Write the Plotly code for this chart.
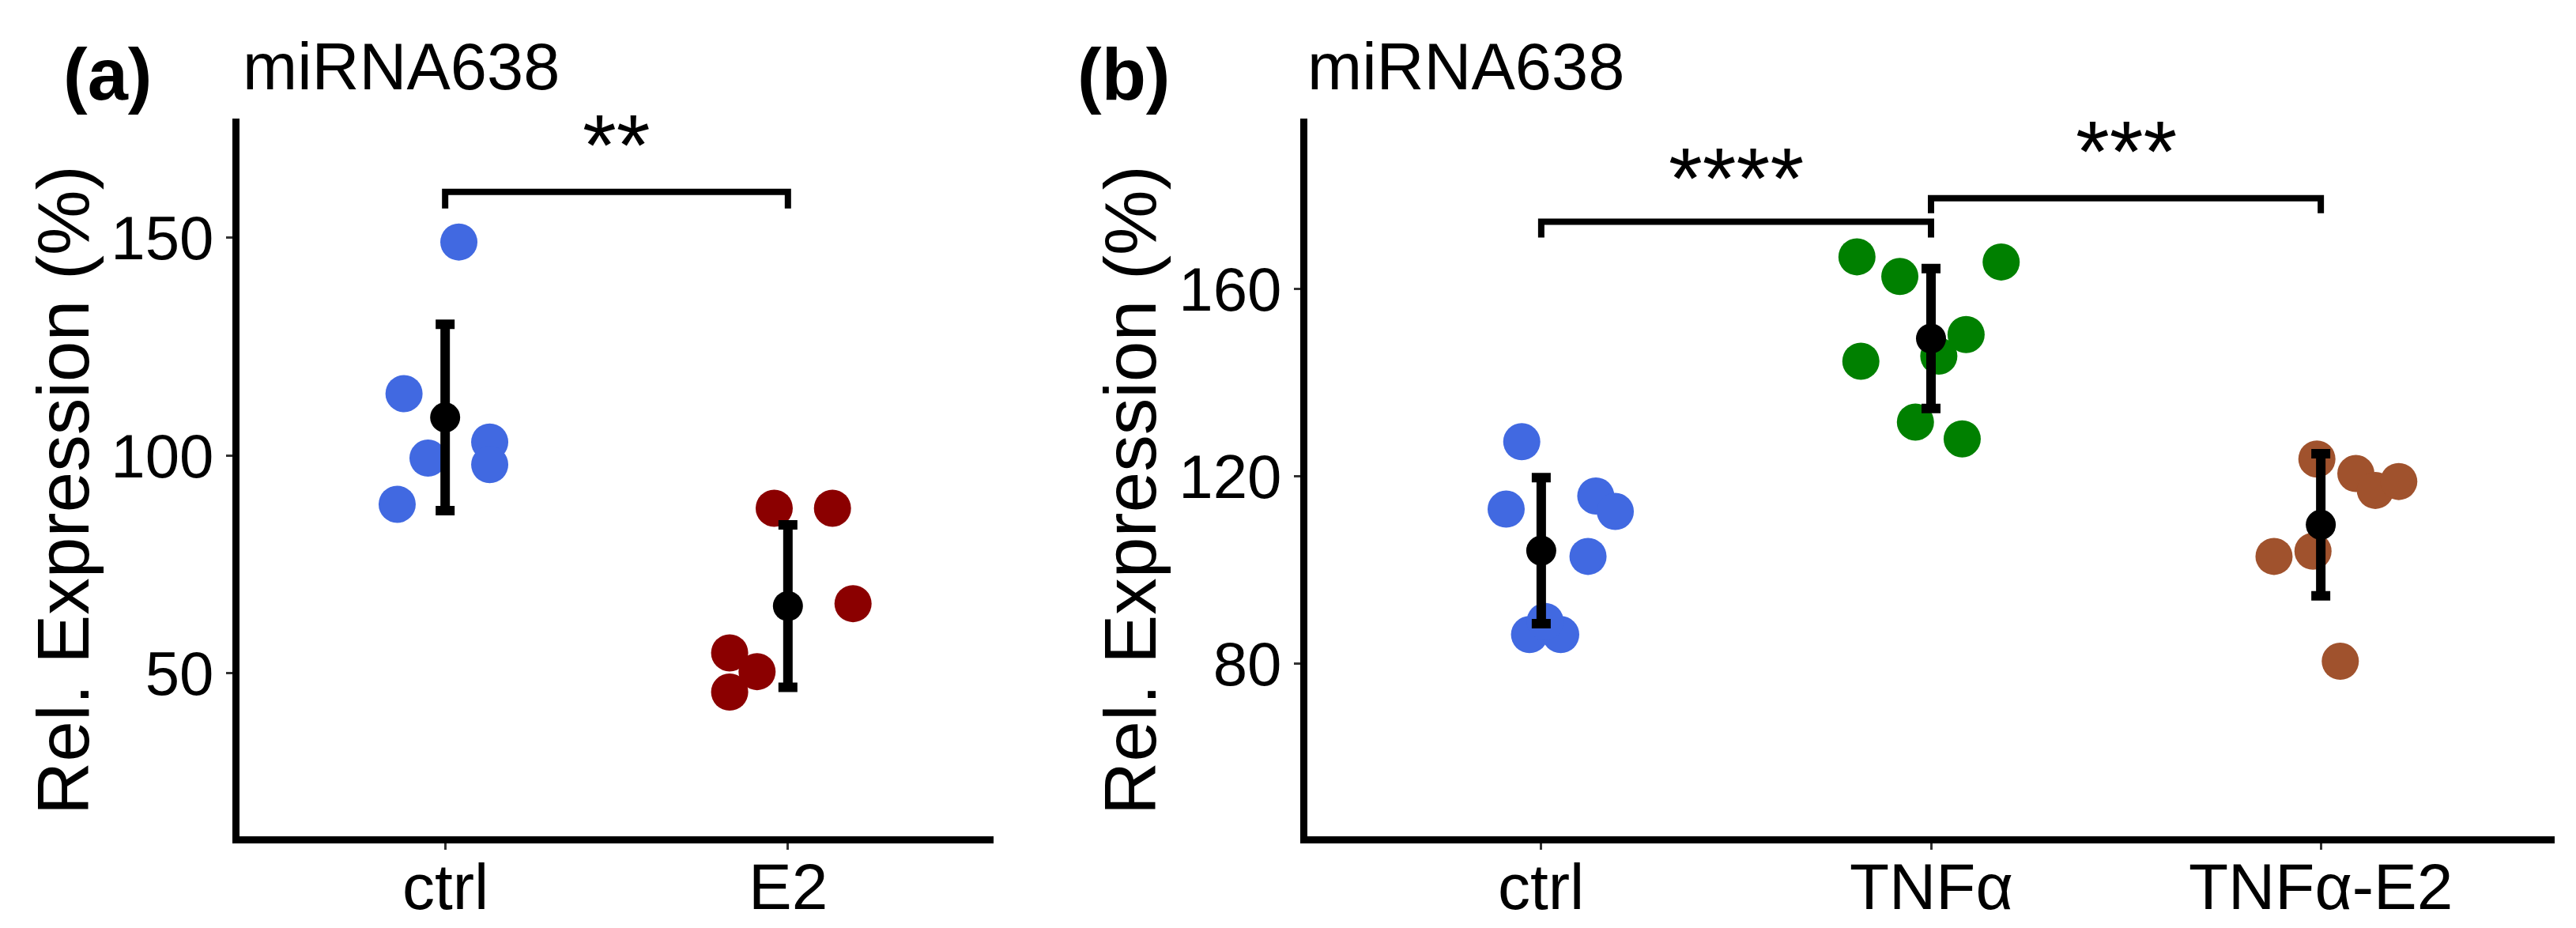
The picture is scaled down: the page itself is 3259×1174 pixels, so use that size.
import numpy as np
import plotly.graph_objects as go

# ---------------- data ----------------
# Panel (a)
a_groups = ["ctrl", "E2"]
a_ctrl = [149.0, 114.2, 99.4, 103.1, 97.9, 88.8]
a_ctrl_jit = [0.04, -0.12, -0.05, 0.13, 0.13, -0.14]
a_e2 = [87.9, 87.9, 66.0, 54.7, 50.4, 45.7]
a_e2_jit = [-0.04, 0.13, 0.19, -0.17, -0.09, -0.17]

# Panel (b)
b_groups = ["ctrl", "TNFα", "TNFα-E2"]
b_ctrl = [127.4, 113.0, 115.8, 112.5, 102.9, 86.2, 86.2, 89.0]
b_ctrl_jit = [-0.05, -0.09, 0.14, 0.19, 0.12, -0.03, 0.05, 0.01]
b_tnf = [166.9, 162.7, 165.8, 150.3, 144.6, 145.7, 131.6, 128.0]
b_tnf_jit = [-0.19, -0.08, 0.18, 0.09, -0.18, 0.02, -0.04, 0.08]
b_tnfe2 = [123.7, 120.6, 117.0, 118.9, 102.9, 104.0, 80.5]
b_tnfe2_jit = [-0.01, 0.09, 0.14, 0.20, -0.12, -0.02, 0.05]

# significance brackets: (group i, group j, bracket y, tick bottom y, label, label y)
a_brackets = [(0, 1, 160.5, 156.7, "**", 171.5)]
b_brackets = [(0, 1, 174.4, 171.0, "****", 183.8),
              (1, 2, 179.4, 176.2, "***", 189.6)]

a_yticks = [50, 100, 150]
b_yticks = [80, 120, 160]

colors_a = ["#4169E1", "#8B0000"]
colors_b = ["#4169E1", "#008000", "#A0522D"]

FONT = "Liberation Sans, Arial, sans-serif"

fig = go.Figure()


def add_group(fig, idx, vals, jit, color, xa, ya):
    fig.add_trace(go.Scatter(
        x=[idx + j for j in jit], y=vals, mode="markers",
        marker=dict(size=47, color=color, line=dict(width=0)),
        xaxis=xa, yaxis=ya, showlegend=False, hoverinfo="y"))


def add_summary(fig, groups_vals, xa, ya):
    means = [float(np.mean(v)) for v in groups_vals]
    sds = [float(np.std(v, ddof=1)) for v in groups_vals]
    fig.add_trace(go.Scatter(
        x=list(range(len(groups_vals))), y=means, mode="markers",
        marker=dict(size=38, color="black", symbol="circle"),
        error_y=dict(type="data", array=sds, visible=True,
                     color="black", thickness=12, width=12),
        xaxis=xa, yaxis=ya, showlegend=False, hoverinfo="y"))


def add_brackets(fig, brackets, xa, ya):
    for (i, j, yb, yt, lab, ly) in brackets:
        fig.add_trace(go.Scatter(
            x=[i, i, j, j], y=[yt, yb, yb, yt], mode="lines",
            line=dict(color="black", width=8),
            xaxis=xa, yaxis=ya, showlegend=False, hoverinfo="skip"))
        fig.add_annotation(x=(i + j) / 2, y=ly, xref=xa, yref=ya,
                           text=lab, showarrow=False, xanchor="center",
                           yanchor="middle",
                           font=dict(family=FONT, size=110, color="black"))


W, H = 3259, 1174


def add_xlabels(fig, groups, xa):
    # category labels under the x axis
    for k, g in enumerate(groups):
        fig.add_annotation(x=k, y=1 - 1066 / H, xref=xa, yref="paper",
                           text=g, showarrow=False, xanchor="center",
                           yanchor="top",
                           font=dict(family=FONT, size=82, color="black"))


# panel a
for k, (vals, jit) in enumerate([(a_ctrl, a_ctrl_jit), (a_e2, a_e2_jit)]):
    add_group(fig, k, vals, jit, colors_a[k], "x", "y")
add_summary(fig, [a_ctrl, a_e2], "x", "y")
add_brackets(fig, a_brackets, "x", "y")
add_xlabels(fig, a_groups, "x")

# panel b
for k, (vals, jit) in enumerate([(b_ctrl, b_ctrl_jit), (b_tnf, b_tnf_jit),
                                  (b_tnfe2, b_tnfe2_jit)]):
    add_group(fig, k, vals, jit, colors_b[k], "x2", "y2")
add_summary(fig, [b_ctrl, b_tnf, b_tnfe2], "x2", "y2")
add_brackets(fig, b_brackets, "x2", "y2")
add_xlabels(fig, b_groups, "x2")

ydom = [1 - 1050 / H, 1 - 141.6 / H]

axis_common = dict(showline=True, linewidth=9, linecolor="black",
                   showgrid=False, zeroline=False, ticks="outside",
                   ticklen=8, tickwidth=3, tickcolor="#333333")
yfont = dict(family=FONT, size=78, color="black")

fig.update_layout(
    width=W, height=H,
    margin=dict(l=0, r=0, t=0, b=0),
    paper_bgcolor="white", plot_bgcolor="white",
    xaxis=dict(domain=[295 / W, 1249 / W], range=[-0.6, 1.6],
               tickvals=[0, 1], showticklabels=False, anchor="y",
               **axis_common),
    yaxis=dict(domain=ydom, range=[12.6, 177.4], tickvals=a_yticks,
               anchor="x", ticklabelstandoff=0, tickfont=yfont,
               **axis_common),
    xaxis2=dict(domain=[1646 / W, 3224 / W], range=[-0.6, 2.6],
                tickvals=[0, 1, 2], showticklabels=False, anchor="y2",
                **axis_common),
    yaxis2=dict(domain=ydom, range=[43.1, 196.5], tickvals=b_yticks,
                anchor="x2", ticklabelstandoff=0, tickfont=yfont,
                **axis_common),
)

# panel labels and titles
for px_lab, px_title, lab in [(70, 297, "(a)"), (1353, 1644, "(b)")]:
    fig.add_annotation(x=px_lab / W, y=1 - 86 / H, xref="paper", yref="paper",
                       text="<b>%s</b>" % lab, showarrow=False,
                       xanchor="left", yanchor="middle",
                       font=dict(family=FONT, size=92, color="black"))
    fig.add_annotation(x=px_title / W, y=1 - 76 / H, xref="paper", yref="paper",
                       text="miRNA638", showarrow=False,
                       xanchor="left", yanchor="middle",
                       font=dict(family=FONT, size=83, color="black"))

for px in [72, 1422]:
    fig.add_annotation(x=px / W, y=1 - 612 / H, xref="paper", yref="paper",
                       text="Rel. Expression (%)", textangle=-90,
                       showarrow=False, xanchor="center", yanchor="middle",
                       font=dict(family=FONT, size=93, color="black"))

fig.write_html("out.html")
